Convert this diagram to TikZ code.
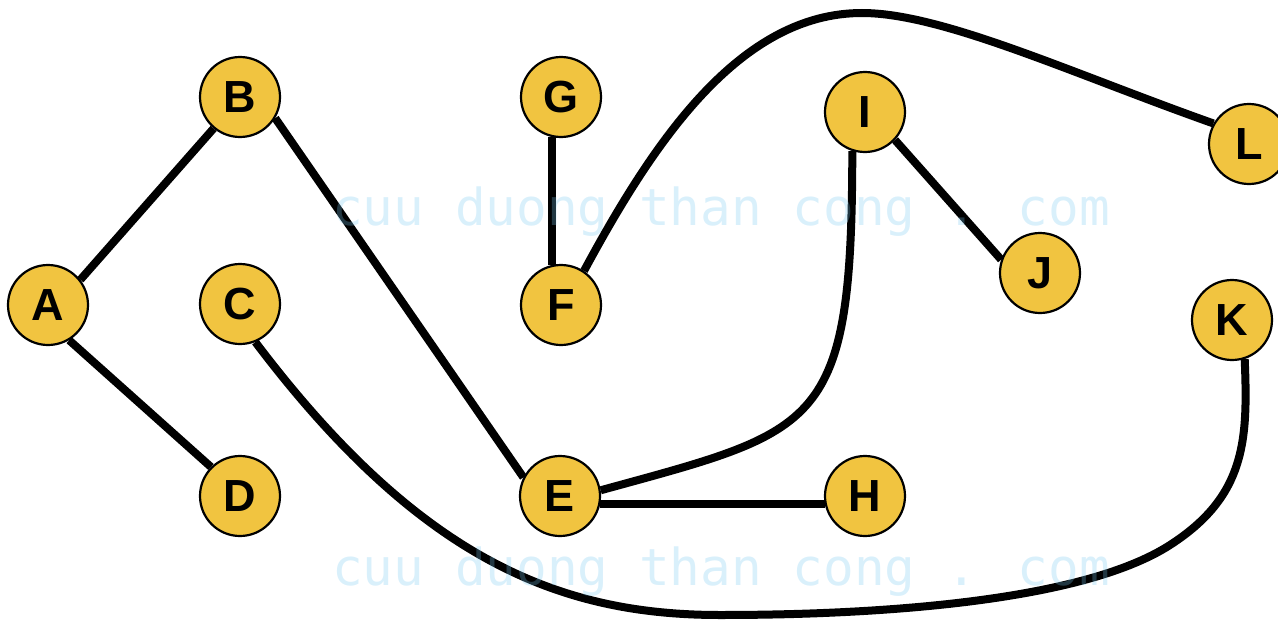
\documentclass[tikz,border=0pt]{standalone}
\usepackage{fontspec}
\setmainfont{Liberation Sans}
\newfontfamily\wmfont{DejaVu Sans Mono}
\usetikzlibrary{backgrounds}
\definecolor{nodefill}{RGB}{241,196,64}
\definecolor{wmblue}{RGB}{120,200,240}
\tikzset{
  vtx/.style={circle, draw=black, line width=2.2pt, fill=nodefill, minimum size=80pt, inner sep=0pt,
    font=\fontsize{45}{45}\selectfont\bfseries},
  edge/.style={draw=black, line width=8pt},
  wm/.style={text=wmblue, text opacity=0.28, font=\wmfont\fontsize{51}{51}\selectfont, anchor=base west, inner sep=0pt}
}
\begin{document}
\begin{tikzpicture}[x=1pt,y=-1pt]
\useasboundingbox (0,0) rectangle (1278,621);
\node[vtx] (A) at (48,305) {A};
\node[vtx] (B) at (240,97) {B};
\node[vtx] (C) at (240,304) {C};
\node[vtx] (D) at (240,496) {D};
\node[vtx] (E) at (560,496) {E};
\node[vtx] (F) at (561,305) {F};
\node[vtx] (G) at (561,97) {G};
\node[vtx] (H) at (865,496) {H};
\node[vtx] (I) at (865,112) {I};
\node[vtx] (J) at (1040,273) {J};
\node[vtx] (K) at (1232,320) {K};
\node[vtx] (L) at (1249,144) {L};
\coordinate (m) at (720,615);
\coordinate (n) at (1170,545);
\coordinate (p) at (862,13);
\begin{scope}[on background layer]
\draw[edge] (A.38) -- (B.230);
\draw[edge] (A.-59) -- (D.135);
\draw[edge] (B.-31) -- (E.153);
\draw[edge] (G.258) -- (F.102);
\draw[edge] (E.-11) -- (H.191);
\draw[edge] (I.-43) -- (J.161);
\draw[edge] (F.56) .. controls (654,141) and (740,13) .. (p)
                   .. controls (942,13) and (1071,73) .. (L.150);
\draw[edge] (I.252) .. controls (852,430) and (820,430) .. (E.8);
\draw[edge] (C.-68) .. controls (420,560) and (560,615) .. (m)
                    .. controls (870,615) and (1080,603) .. (n)
                    .. controls (1246,496) and (1248,440) .. (K.-72);
\end{scope}
\node[wm] (w1) at (332,225) {cuu duong than cong . com};
\node[wm] (w2) at (332,585) {cuu duong than cong . com};
\end{tikzpicture}
\end{document}
